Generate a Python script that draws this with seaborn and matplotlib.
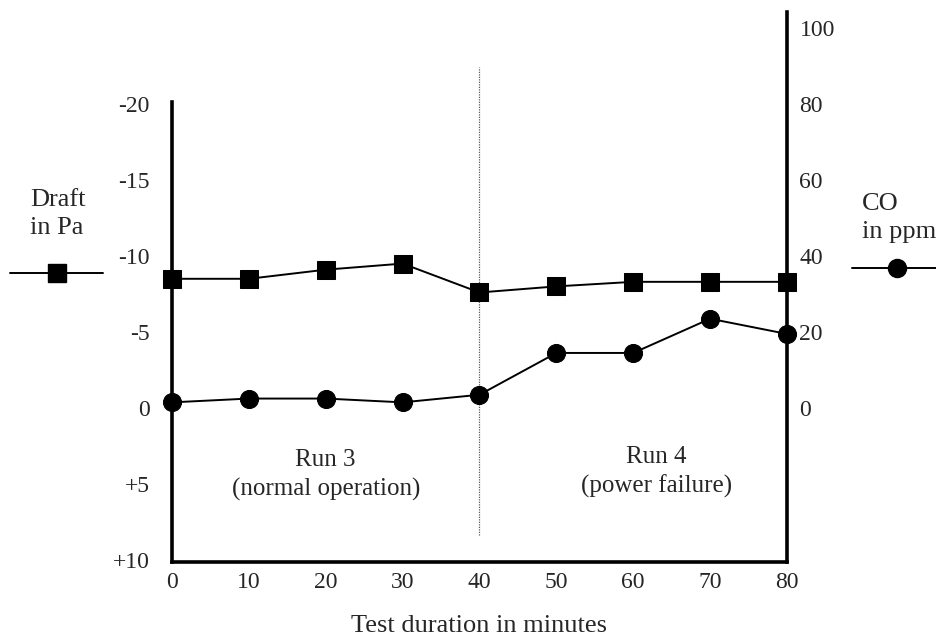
import matplotlib
matplotlib.use("Agg")
import matplotlib.pyplot as plt
from matplotlib.lines import Line2D
import seaborn as sns
import pandas as pd

# Test data: draft (Pa, negative = suction) and CO concentration (ppm)
minutes = [0, 10, 20, 30, 40, 50, 60, 70, 80]
draft_pa = [-8.5, -8.5, -9.1, -9.5, -7.6, -8.0, -8.3, -8.3, -8.3]
co_ppm = [1.5, 2.5, 2.5, 1.5, 3.5, 14.5, 14.5, 23.5, 19.5]

draft_ticks = [-20, -15, -10, -5, 0, 5, 10]
draft_tick_labels = ["-20", "-15", "-10", "-5", "0", "+5", "+10"]
co_ticks = [0, 20, 40, 60, 80, 100]
x_ticks = [0, 10, 20, 30, 40, 50, 60, 70, 80]

sns.set_style("white")
plt.rcParams["font.family"] = ["Liberation Serif", "DejaVu Serif"]

df = pd.DataFrame({"minutes": minutes, "draft": draft_pa, "co": co_ppm})

fig = plt.figure(figsize=(9.37, 6.38), dpi=100)
ax = fig.add_axes([172 / 937, 76 / 638, 615 / 937, 550 / 638])
ax2 = ax.twinx()

# Draft (left axis, inverted so suction plots upward)
sns.lineplot(data=df, x="minutes", y="draft", ax=ax, color="black",
             marker="s", markersize=12.5, markeredgecolor="black",
             linewidth=1.4, clip_on=False, zorder=5)
# CO (right axis)
sns.lineplot(data=df, x="minutes", y="co", ax=ax2, color="black",
             marker="o", markersize=13, markeredgecolor="black",
             linewidth=1.4, clip_on=False, zorder=5)

ax.set_xlim(0, 80)
ax.set_ylim(10.13, -26.05)
ax2.set_ylim(-40.5, 104.2)

ax.set_xticks(x_ticks)
ax.set_xticklabels([str(v) for v in x_ticks])
ax.set_yticks(draft_ticks)
ax.set_yticklabels(draft_tick_labels)
ax2.set_yticks(co_ticks)
ax2.set_yticklabels([str(v) for v in co_ticks])

ax.tick_params(axis="y", length=0, pad=16, labelsize=17)
ax.tick_params(axis="x", length=0, pad=7, labelsize=17)
ax2.tick_params(axis="y", length=0, pad=9, labelsize=17)

ax.set_xlabel("Test duration in minutes", fontsize=19, labelpad=16)
ax.set_ylabel("")
ax2.set_ylabel("")

for a in (ax, ax2):
    a.grid(False)
    a.spines["top"].set_visible(False)
    for s in ("left", "right", "bottom"):
        a.spines[s].set_linewidth(2.6)
        a.spines[s].set_color("black")
ax.spines["right"].set_visible(False)
ax2.spines["left"].set_visible(False)
ax2.spines["bottom"].set_visible(False)
ax.spines["left"].set_bounds(10.13, -20.1)

# Boundary between the two runs
ax.axvline(40, ymin=0.05, ymax=0.9, color="0.35", linewidth=0.9,
           linestyle=(0, (1, 1)), zorder=1)

ax.text(20, 4.4, "Run 3\n(normal operation)", ha="center", va="center",
        multialignment="center", fontsize=18, linespacing=1.35)
ax.text(63, 4.2, "Run 4\n(power failure)", ha="center", va="center",
        multialignment="center", fontsize=18, linespacing=1.35)

# Series keys beside each axis
fig.text(30 / 937, 1 - 214 / 638, "Draft\nin Pa", ha="left", va="center",
         fontsize=19, linespacing=1.4)
fig.text(862 / 937, 1 - 218 / 638, "CO\nin ppm", ha="left", va="center",
         fontsize=19, linespacing=1.4)

ky = 1 - 273 / 638
fig.add_artist(Line2D([10 / 937, 57 / 937, 103 / 937], [ky, ky, ky],
                      transform=fig.transFigure, color="black", linewidth=1.4,
                      marker="s", markersize=12.5, markevery=[1]))
ky2 = 1 - 268 / 638
fig.add_artist(Line2D([852 / 937, 897 / 937, 937 / 937], [ky2, ky2, ky2],
                      transform=fig.transFigure, color="black", linewidth=1.4,
                      marker="o", markersize=13, markevery=[1]))

fig.savefig("out.png", dpi=100)
